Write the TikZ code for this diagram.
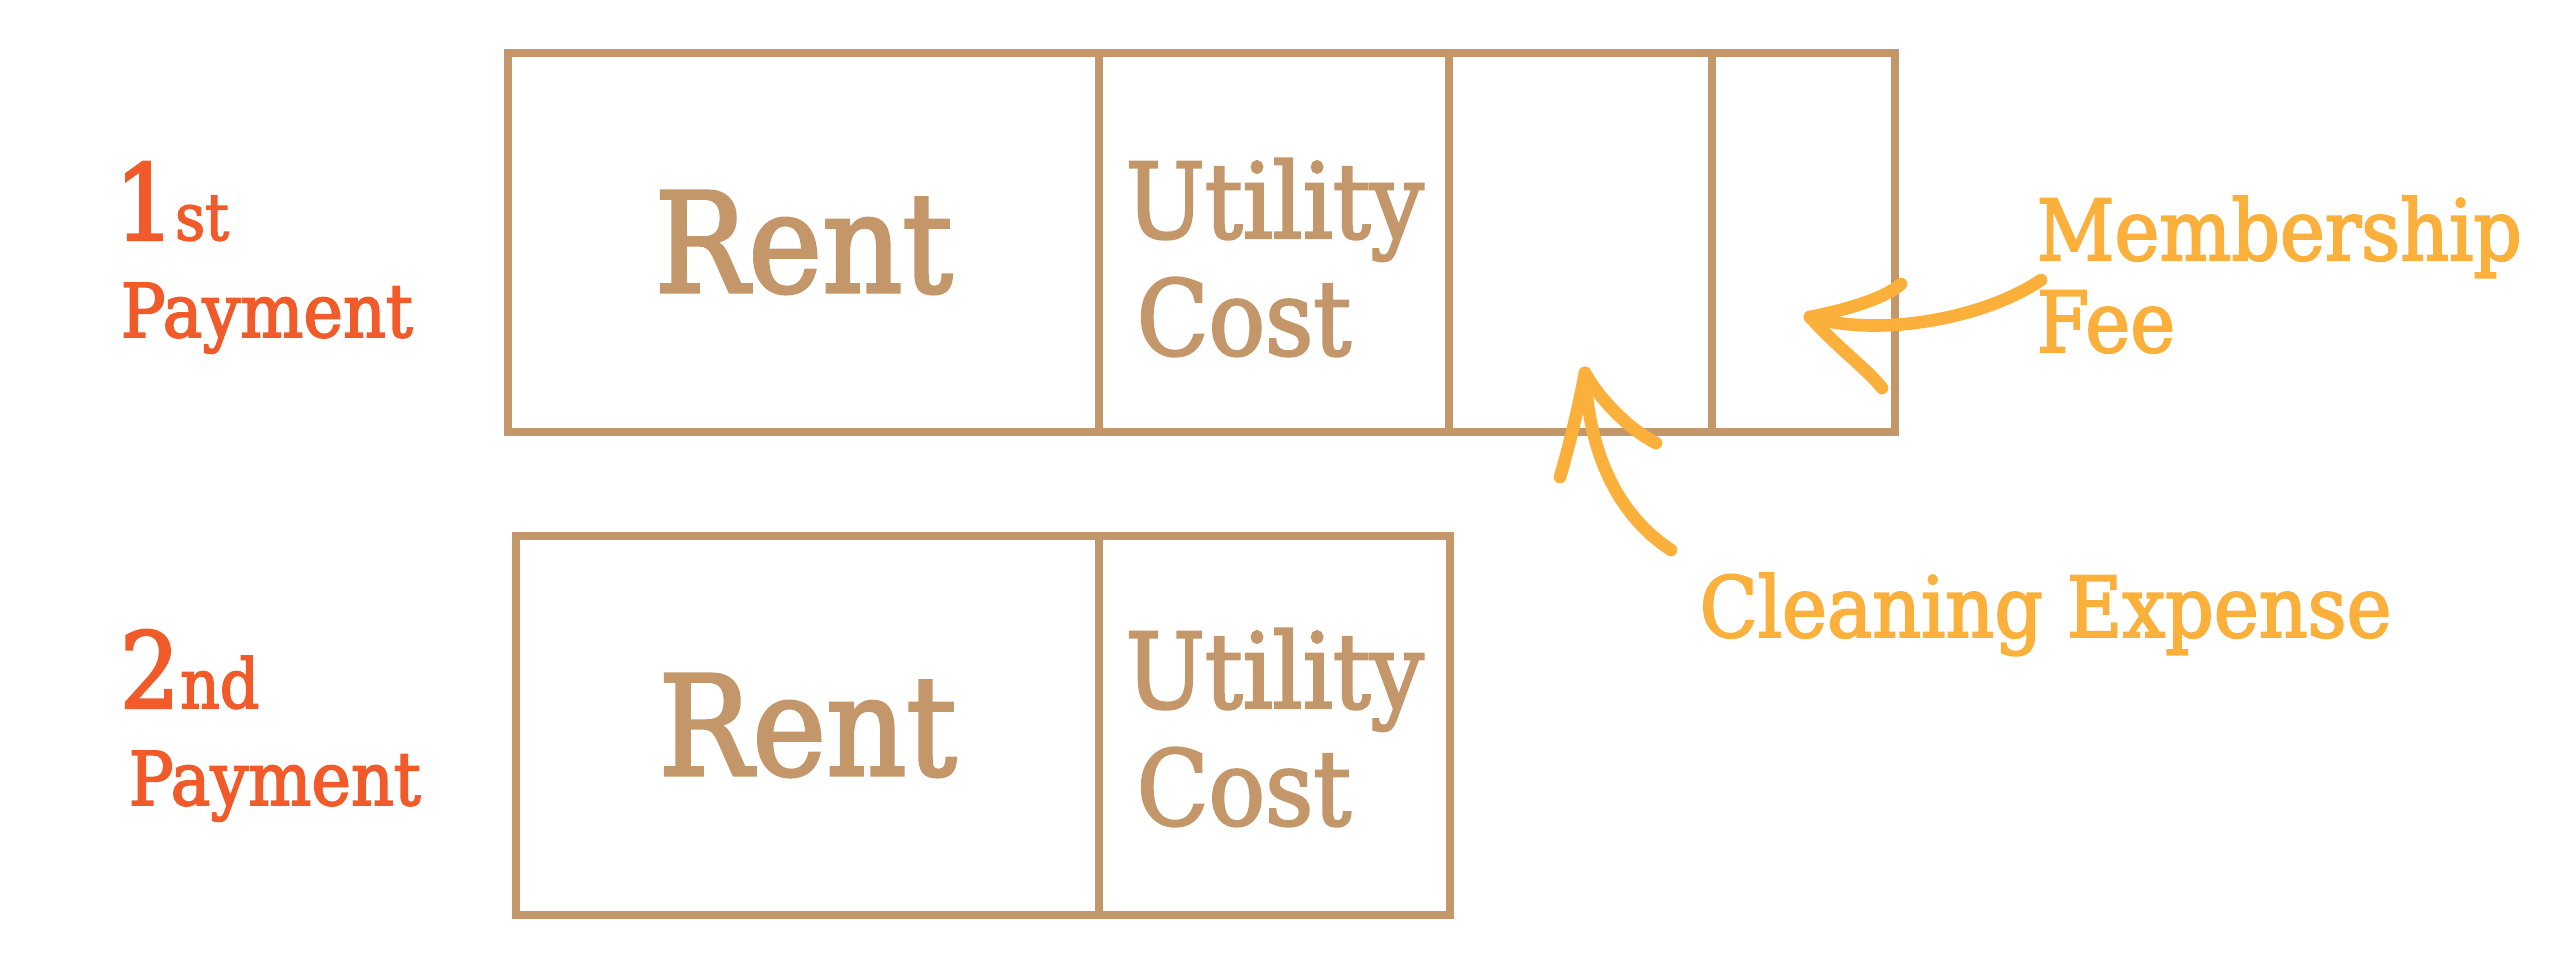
\documentclass[tikz,border=0pt]{standalone}
\usepackage{fontspec}
\setmainfont{DejaVu Serif}[FakeStretch=0.9, FakeBold=2.3]
\definecolor{boxtan}{HTML}{C4976A}
\definecolor{payred}{HTML}{F15A29}
\definecolor{notegold}{HTML}{FBB03B}
\tikzstyle{cell} = [rectangle, draw=boxtan, line width=2.36pt, minimum height=3.79cm, inner sep=0pt, outer sep=0pt, text=boxtan, font=\fontsize{39.4pt}{40pt}\selectfont]
\tikzstyle{midtext} = [text=boxtan, inner sep=0pt, anchor=base west, font=\fontsize{29.7pt}{30pt}\selectfont]
\tikzstyle{paytext} = [text=payred, inner sep=0pt, anchor=base west, font=\fontsize{21.1pt}{22pt}\selectfont]
\tikzstyle{ordtext} = [text=payred, inner sep=0pt, anchor=base west]
\tikzstyle{notetext} = [text=notegold, inner sep=0pt, anchor=base west, font=\fontsize{24pt}{26pt}\selectfont]
\tikzstyle{hand} = [draw=notegold, line width=3.6pt, line cap=round]

\begin{document}
\begin{tikzpicture}
\useasboundingbox (0,0) rectangle (25.69,-9.64);

% Cells
\node (rentA) at (8.035,-2.425) [cell, minimum width=5.91cm] {Rent};
\node (utilA) at (12.74,-2.425) [cell, minimum width=3.50cm] {};
\node (cleanA) at (15.805,-2.425) [cell, minimum width=2.63cm] {};
\node (membA) at (18.035,-2.425) [cell, minimum width=1.83cm] {};

\node (rentB) at (8.075,-7.255) [cell, minimum width=5.83cm] {Rent};
\node (utilB) at (12.745,-7.255) [cell, minimum width=3.51cm] {};

% Texts
\node (utilAtop) at (11.25,-2.38) [midtext] {Utility};
\node (utilAbot) at (11.36,-3.55) [midtext] {Cost};
\node (utilBtop) at (11.25,-7.08) [midtext] {Utility};
\node (utilBbot) at (11.36,-8.25) [midtext] {Cost};

\node (firstnum) at (1.14,-2.40) [ordtext] {\fontsize{30pt}{30pt}\selectfont 1\fontsize{18.6pt}{19pt}\selectfont st};
\node (firstpay) at (1.20,-3.37) [paytext] {Payment};
\node (secondnum) at (1.19,-7.08) [ordtext] {\fontsize{30pt}{30pt}\selectfont 2\fontsize{19.5pt}{20pt}\selectfont nd};
\node (secondpay) at (1.28,-8.05) [paytext] {Payment};

\node (membtop) at (20.36,-2.60) [notetext] {Membership};
\node (membbot) at (20.36,-3.52) [notetext] {Fee};
\node (cleannote) at (16.99,-6.37) [notetext] {Cleaning Expense};

% Arrows
\coordinate (membTail) at (20.41,-2.80);
\coordinate (membTip) at (18.10,-3.17);
\draw [hand] (membTail) .. controls (19.85,-3.18) and (18.80,-3.38) .. (membTip);
\draw [hand] (membTip) .. controls (18.55,-3.08) and (18.88,-2.96) .. (19.01,-2.84);
\draw [hand] (membTip) .. controls (18.40,-3.50) and (18.68,-3.70) .. (18.82,-3.88);

\coordinate (cleanTail) at (16.71,-5.50);
\coordinate (cleanTip) at (15.85,-3.73);
\draw [hand] (cleanTail) .. controls (16.10,-5.10) and (15.88,-4.40) .. (cleanTip);
\draw [hand] (cleanTip) .. controls (15.78,-4.10) and (15.68,-4.50) .. (15.60,-4.77);
\draw [hand] (cleanTip) .. controls (16.00,-4.00) and (16.30,-4.30) .. (16.56,-4.43);

\end{tikzpicture}
\end{document}
